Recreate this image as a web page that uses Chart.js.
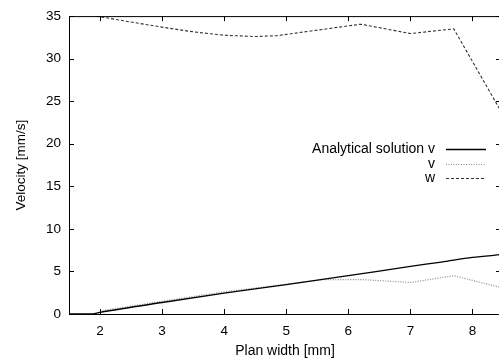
<!DOCTYPE html>
<html>
<head>
<meta charset="utf-8">
<script src="https://cdn.jsdelivr.net/npm/chart.js@4"></script>
<style>
  html, body { margin: 0; padding: 0; background: #fff; overflow: hidden; }
  #wrap { width: 499px; height: 360px; overflow: hidden; }
</style>
</head>
<body>
<div id="wrap"><canvas id="chart" width="503" height="360"></canvas></div>
<script>
// values
const analyticalX = [1.5, 1.85, 2.0, 3.0, 4.0, 5.0, 6.0, 7.0, 7.5, 8.0, 8.46];
const analyticalV = [0, 0, 0.2, 1.35, 2.45, 3.45, 4.5, 5.6, 6.1, 6.65, 6.97];

const vX = [2.0, 3.0, 4.0, 5.0, 5.6, 6.2, 7.0, 7.7, 8.46];
const vV = [0.35, 1.5, 2.6, 3.5, 4.05, 4.05, 3.7, 4.5, 3.1];

const wX = [1.94, 2.5, 3.0, 3.5, 4.0, 4.5, 4.85, 6.2, 7.0, 7.7, 8.46];
const wV = [35.0, 34.3, 33.7, 33.15, 32.75, 32.6, 32.7, 34.05, 32.95, 33.5, 23.8];

const xTicks = [2, 3, 4, 5, 6, 7, 8];
const yTicks = [0, 5, 10, 15, 20, 25, 30, 35];

const FONT = 'Liberation Sans, Arial, sans-serif';

function pts(xs, ys) {
  return xs.map((x, i) => ({ x: x, y: ys[i] }));
}

// gnuplot-like frame, inward ticks and key
const framePlugin = {
  id: 'frame',
  afterDraw(chart) {
    const ctx = chart.ctx;
    const a = chart.chartArea;
    const xs = chart.scales.x;
    const ys = chart.scales.y;
    ctx.save();
    ctx.strokeStyle = '#000';
    ctx.lineWidth = 1;
    ctx.strokeRect(a.left + 0.5, a.top + 0.5, a.right - a.left, a.bottom - a.top);
    ctx.beginPath();
    xTicks.forEach(t => {
      const px = Math.round(xs.getPixelForValue(t)) + 0.5;
      ctx.moveTo(px, a.bottom); ctx.lineTo(px, a.bottom - 5);
      ctx.moveTo(px, a.top); ctx.lineTo(px, a.top + 5);
    });
    yTicks.forEach(t => {
      const py = Math.round(ys.getPixelForValue(t)) + 0.5;
      ctx.moveTo(a.left, py); ctx.lineTo(a.left + 5, py);
      ctx.moveTo(a.right, py); ctx.lineTo(a.right - 5, py);
    });
    ctx.stroke();

    // key
    ctx.font = '14px ' + FONT;
    ctx.fillStyle = '#000';
    ctx.textAlign = 'right';
    ctx.textBaseline = 'middle';
    chart.data.datasets.forEach((ds, i) => {
      const y = 149 + i * 14.7;
      ctx.fillText(ds.label, 435, y);
      ctx.beginPath();
      ctx.strokeStyle = ds.borderColor;
      ctx.lineWidth = ds.borderWidth;
      ctx.setLineDash(ds.borderDash || []);
      ctx.moveTo(446, Math.round(y) + 0.5);
      ctx.lineTo(486, Math.round(y) + 0.5);
      ctx.stroke();
    });
    ctx.restore();
  }
};

new Chart(document.getElementById('chart'), {
  type: 'line',
  data: {
    datasets: [
      {
        label: 'Analytical solution v',
        data: pts(analyticalX, analyticalV),
        borderColor: '#000',
        borderWidth: 1.3,
        pointRadius: 0,
        cubicInterpolationMode: 'monotone',
      },
      {
        label: 'v',
        data: pts(vX, vV),
        borderColor: '#8a8a8a',
        borderWidth: 1.2,
        borderDash: [1, 1.5],
        pointRadius: 0,
        tension: 0,
      },
      {
        label: 'w',
        data: pts(wX, wV),
        borderColor: '#333',
        borderWidth: 1.1,
        borderDash: [3, 2],
        pointRadius: 0,
        tension: 0,
      },
    ],
  },
  options: {
    responsive: false,
    animation: false,
    layout: { padding: { top: 14, right: 2, left: 0, bottom: 0 } },
    plugins: {
      legend: { display: false },
      tooltip: { enabled: false },
    },
    scales: {
      x: {
        type: 'linear',
        min: 1.5,
        max: 8.46,
        grid: { display: false, drawTicks: false },
        border: { display: false },
        ticks: {
          stepSize: 1,
          includeBounds: false,
          padding: 9,
          color: '#000',
          font: { family: FONT, size: 13.5 },
        },
        title: {
          display: true,
          text: 'Plan width [mm]',
          color: '#000',
          font: { family: FONT, size: 14 },
          padding: { top: 0, bottom: 0 },
        },
        afterFit(scale) { scale.height = 46; },
      },
      y: {
        min: 0,
        max: 35,
        grid: { display: false, drawTicks: false },
        border: { display: false },
        ticks: {
          stepSize: 5,
          padding: 8,
          color: '#000',
          font: { family: FONT, size: 13.5 },
        },
        title: {
          display: true,
          text: 'Velocity [mm/s]',
          color: '#000',
          font: { family: FONT, size: 13.5 },
          padding: { top: 13, bottom: 0 },
        },
        afterFit(scale) { scale.width = 69; },
      },
    },
  },
  plugins: [framePlugin],
});
</script>
</body>
</html>
